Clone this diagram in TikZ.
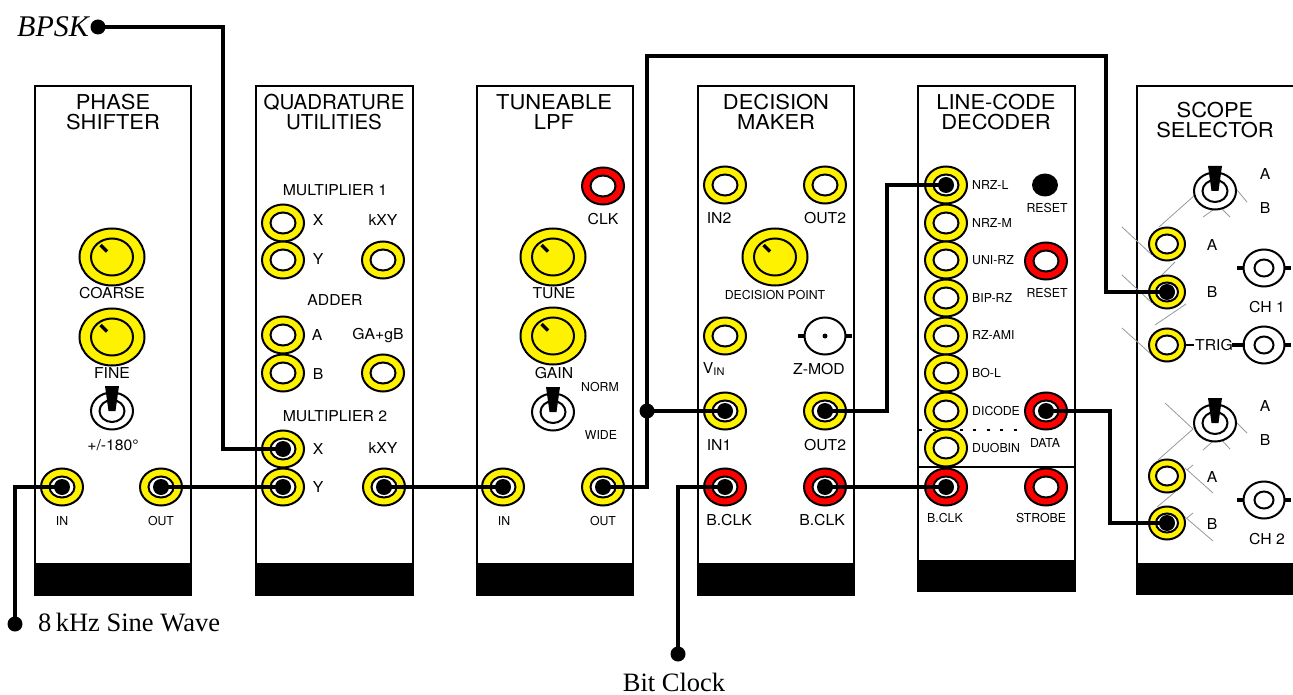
\documentclass[tikz,border=0pt]{standalone}
\usepackage{fontspec}
\setmainfont{Liberation Serif}
\newfontfamily\panelfont{TeX Gyre Heros}
\newfontfamily\widefont[FakeStretch=1.07]{TeX Gyre Heros}
\newfontfamily\labfont[FakeStretch=1.05]{TeX Gyre Heros}
\usetikzlibrary{shapes.geometric}
\tikzset{
  panel/.style={draw=black, line width=1.8, fill=white},
  title/.style={font=\widefont\fontsize{20.5}{20}\selectfont, align=center, inner sep=0},
  lab/.style={font=\labfont\fontsize{15}{15}\selectfont, inner sep=0},
  smalllab/.style={font=\panelfont\fontsize{12.3}{12}\selectfont, inner sep=0},
  caption/.style={font=\fontsize{26.5}{26}\selectfont, inner sep=0},
  jack/.style={ellipse, draw=black, line width=2, fill=#1, minimum width=42, minimum height=37, inner sep=0},
  hole/.style={ellipse, draw=black, line width=2, fill=white, minimum width=25, minimum height=21, inner sep=0},
  scopejack/.style={jack=yellow, minimum width=36, minimum height=33},
  scopehole/.style={hole, minimum width=22, minimum height=19},
  knob/.style={ellipse, draw=black, line width=2, fill=yellow, minimum width=65, minimum height=57, inner sep=0},
  knobin/.style={ellipse, draw=black, line width=2, fill=yellow, minimum width=42, minimum height=37, inner sep=0},
  toggle/.style={ellipse, draw=black, line width=2, fill=white, minimum width=42, minimum height=37, inner sep=0},
  togglein/.style={toggle, minimum width=25, minimum height=22},
  bnc/.style={toggle, minimum width=41, minimum height=37},
  bncin/.style={toggle, minimum width=19, minimum height=17},
  plug/.style={circle, fill=black, minimum size=16, inner sep=0},
  dot/.style={circle, fill=black, minimum size=15, inner sep=0},
  wire/.style={line width=4, line join=miter, draw=black},
  feeler/.style={draw=black!40, line width=0.8},
}
\begin{document}
\begin{tikzpicture}[x=1pt, y=-1pt]
\useasboundingbox (0,0) rectangle (1293,695);
\clip (0,0) rectangle (1293,695);

% Module panels with their black feet
\foreach \name/\xa/\xb/\yfoot/\yend in {ps/35/191/563/595, qu/256/413/563/595, lp/477/633/563/595, dm/698/854/563/595, lc/918/1075/560/591, sc/1137/1300/563/594} {
  \draw[panel] (\xa,86) rectangle (\xb,\yend);
  \fill[black] (\xa-1,\yfoot) rectangle (\xb+1,\yend);
}
\draw[panel] (918,467) -- (1075,467);
\draw[line width=1.8, dash pattern=on 3 off 10.5] (919,430) -- (1018,430);

% Titles
\foreach \name/\x/\y/\ttl in {ps/113/112/{PHASE\\SHIFTER}, lp/554/112/{TUNEABLE\\LPF}, dm/776/112/{DECISION\\MAKER}, lc/996/112/{LINE-CODE\\DECODER}, sc/1215/120/{SCOPE\\SELECTOR}}
  \node[title] (\name-title) at (\x,\y) {\ttl};
\node[title, font=\panelfont\fontsize{20.5}{20}\selectfont] (qu-title) at (334,112) {QUADRATURE\\UTILITIES};

% Thin grey traces on the scope selector
\foreach \xa/\ya/\xb/\yb in {1195/195/1159/227, 1237/190/1247/202, 1203/217/1220/205, 1215/202/1230/217, 1122/227/1152/255, 1175/262/1155/282, 1122/275/1152/303, 1186/304/1155/325, 1122/328/1152/355, 1165/403/1193/429, 1193/429/1158/460, 1237/423/1247/433, 1203/450/1220/435, 1215/433/1230/449, 1193/465/1187/470, 1185/468/1213/493, 1175/492/1157/507, 1193/513/1187/518, 1185/517/1213/541}
  \draw[feeler] (\xa,\ya) -- (\xb,\yb);

% Yellow sockets
\foreach \name/\x/\y in {ps-in/62/487, ps-out/161/487, qu-x1/283/223, qu-y1/283/260, qu-k1/383/260, qu-a/283/335, qu-b/283/373, qu-g/383/373, qu-x2/283/449, qu-y2/283/487, qu-k2/384/487, lp-in/503/487, lp-out/603/487, dm-in2/725/185, dm-ot2/825/185, dm-vin/725/336, dm-in1/725/411, dm-out2/825/411, lc-nrzl/946/185, lc-nrzm/946/223, lc-uni/946/260, lc-bip/946/298, lc-rz/946/336, lc-bo/946/373, lc-dic/946/411, lc-duo/946/448} {
  \node[jack=yellow] (\name) at (\x,\y) {};
  \node[hole] (\name-h) at (\x,\y) {};
}

% Red sockets
\foreach \name/\x/\y in {lp-clk/603/186, dm-clk/725/487, dm-clk2/825/487, lc-clk/946/487, lc-str/1046/487, lc-rst/1046/261, lc-data/1046/411} {
  \node[jack=red] (\name) at (\x,\y) {};
  \node[hole] (\name-h) at (\x,\y) {};
}

% Scope sockets
\foreach \name/\x/\y in {sc-a1/1167/244, sc-b1/1167/292, sc-trig/1167/345, sc-a2/1167/476, sc-b2/1167/523} {
  \node[scopejack] (\name) at (\x,\y) {};
  \node[scopehole] (\name-h) at (\x,\y) {};
}
\node[ellipse, fill=black, minimum width=26, minimum height=23, inner sep=0] (lc-btn) at (1045,185) {};

% Knobs
\foreach \name/\x/\y in {coarse/112/257, fine/112/337, tune/553/257, gain/553/336, point/775/257} {
  \node[knob] (\name) at (\x,\y) {};
  \node[knobin] (\name-in) at (\x,\y) {};
  \draw[line width=3.5] (\x-11.5,\y-12) -- (\x-5,\y-5.5);
}

% Toggle switches
\foreach \name/\x/\y in {ps-sw/112/411, lp-sw/553/412, sc-sw1/1215/191, sc-sw2/1215/423} {
  \node[toggle] (\name) at (\x,\y) {};
  \node[togglein] (\name-in) at (\x,\y) {};
  \fill[black] (\x-7,\y-25) -- (\x+7,\y-25) -- (\x+3.5,\y) -- (\x-3.5,\y) -- cycle;
}

% BNC connectors
\foreach \name/\x/\y in {zmod/825/336, ch1/1264/268, trigb/1264/345, ch2/1264/500} {
  \draw[line width=3.5] (\x-27,\y) -- (\x+27,\y);
  \node[bnc] (\name) at (\x,\y) {};
}
\foreach \name in {ch1, trigb, ch2}
  \node[bncin] (\name-in) at (\name) {};
\fill[black] (zmod) circle (2.5);
\draw[line width=1.2] (sc-trig) -- (1194,345);
\draw[line width=3.5] (1232,345) -- (1245,345);

% Free ends of the patch leads
\node[dot] (bpsk) at (98,27) {};
\node[dot] (sine) at (15,624) {};
\node[dot] (bitclk) at (678,654) {};
\node[dot] (junc) at (647,411) {};

% Patch leads
\draw[wire] (bpsk.center) -- ++(125,0) |- (qu-x2.center);
\draw[wire] (sine.center) |- (ps-in.center);
\draw[wire] (ps-out.center) -- (qu-y2.center);
\draw[wire] (qu-k2.center) -- (lp-in.center);
\draw[wire] (lp-out.center) -| (junc.center) -- ++(0,-355) -- ++(459,0) |- (sc-b1.center);
\draw[wire] (junc.center) -- (dm-in1.center);
\draw[wire] (dm-out2.center) -- ++(62,0) |- (lc-nrzl.center);
\draw[wire] (bitclk.center) |- (dm-clk.center);
\draw[wire] (dm-clk2.center) -- (lc-clk.center);
\draw[wire] (lc-data.center) -- ++(64,0) |- (sc-b2.center);

% Plugs
\foreach \name in {ps-in, ps-out, qu-x2, qu-y2, qu-k2, lp-in, lp-out, dm-in1, dm-out2, dm-clk, dm-clk2, lc-nrzl, lc-clk, lc-data, sc-b1, sc-b2}
  \node[plug] (\name-p) at (\name) {};

% Labels
\foreach \x/\y/\txt [count=\i] in {112/293/COARSE, 112/373/FINE, 113/445/{+/-180°}, 335/190/MULTIPLIER 1, 318/220/X, 383/220/kXY, 318/259/Y, 335/300/ADDER, 317/335/A, 378/336/GA+gB, 318/374/B, 335/416/MULTIPLIER 2, 318/449/X, 383/448/kXY, 318/487/Y, 603/219/CLK, 554/293/TUNE, 554/373/GAIN, 719/218/IN2, 825/218/OUT2, 714/369/V\textsubscript{IN}, 819/369/Z-MOD, 719/445/IN1, 825/445/OUT2, 729/520/B.CLK, 822/520/B.CLK, 1265/174/A, 1265/208/B, 1212/245/A, 1212/292/B, 1267/307/CH 1, 1214/345/TRIG, 1265/406/A, 1265/440/B, 1212/477/A, 1212/524/B, 1267/539/CH 2}
  \node[lab] (lab-\i) at (\x,\y) {\txt};
\foreach \x/\y/\txt [count=\i] in {62/521/IN, 161/521/OUT, 600/387/NORM, 601/435/WIDE, 504/521/IN, 603/521/OUT, 775/295/DECISION POINT, 1047/208/RESET, 1047/293/RESET, 1045/443/DATA, 945/518/B.CLK, 1041/518/STROBE}
  \node[smalllab] (sl-\i) at (\x,\y) {\txt};
\foreach \y/\txt [count=\i] in {185/NRZ-L, 223/NRZ-M, 260/UNI-RZ, 298/BIP-RZ, 335/RZ-AMI, 373/BO-L, 411/DICODE, 448/DUOBIN}
  \node[smalllab, anchor=west] (code-\i) at (972,\y) {\txt};

% Captions
\node[caption, anchor=west, font=\fontsize{30}{30}\selectfont] (bpsk-txt) at (17,27) {\textit{BPSK}};
\node[caption, anchor=west] (sine-txt) at (38,623) {8\,kHz Sine Wave};
\node[caption] (bit-txt) at (674,682) {Bit Clock};
\end{tikzpicture}
\end{document}
